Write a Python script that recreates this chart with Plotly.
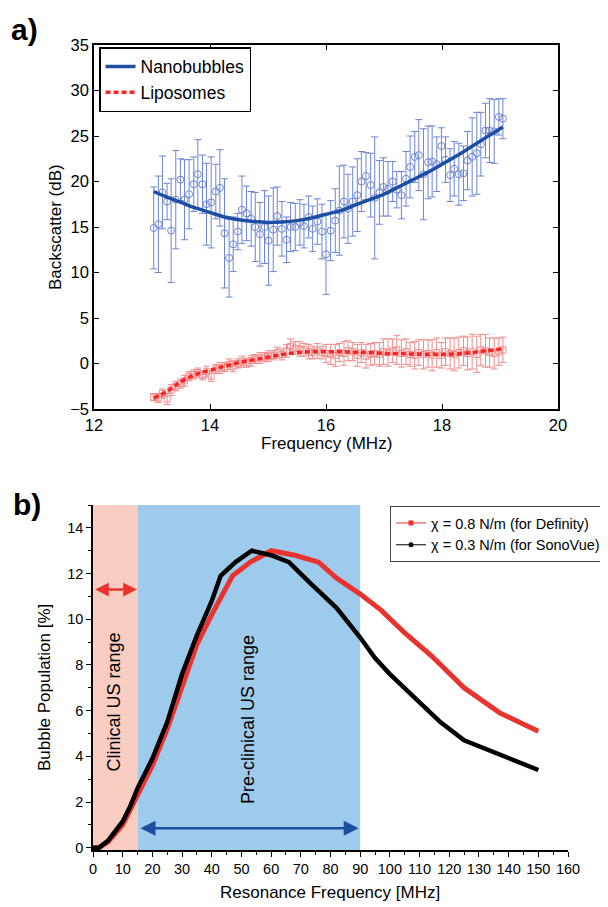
import plotly.graph_objects as go

# ---------------- panel a) data ----------------
freq = [13.03, 13.11, 13.18, 13.26, 13.33, 13.41, 13.49, 13.56, 13.64, 13.72,
        13.79, 13.87, 13.94, 14.02, 14.10, 14.17, 14.25, 14.33, 14.40, 14.48,
        14.55, 14.63, 14.71, 14.78, 14.86, 14.94, 15.01, 15.09, 15.16, 15.24,
        15.32, 15.39, 15.47, 15.55, 15.62, 15.70, 15.77, 15.85, 15.93, 16.00,
        16.08, 16.16, 16.23, 16.31, 16.38, 16.46, 16.54, 16.61, 16.69, 16.77,
        16.84, 16.92, 16.99, 17.07, 17.15, 17.22, 17.30, 17.38, 17.45, 17.53,
        17.60, 17.68, 17.76, 17.83, 17.91, 17.99, 18.06, 18.14, 18.21, 18.29,
        18.37, 18.44, 18.52, 18.60, 18.67, 18.75, 18.82, 18.90, 18.98, 19.05]

nano_mean = [14.9, 15.3, 18.8, 17.8, 14.6, 18.0, 20.2, 18.0, 18.6, 19.7,
             20.8, 19.7, 17.5, 17.7, 18.9, 19.3, 14.3, 11.6, 13.1, 14.5,
             16.9, 16.5, 15.9, 15.0, 14.2, 15.0, 13.5, 14.7, 16.2, 14.8,
             13.6, 15.0, 15.0, 15.5, 15.1, 16.1, 14.8, 15.6, 14.5, 12.0,
             14.6, 15.7, 16.8, 17.8, 17.0, 17.8, 18.5, 20.0, 20.6, 19.6,
             18.2, 18.8, 19.4, 19.2, 20.0, 19.1, 18.5, 20.3, 21.6, 22.7,
             22.9, 20.8, 22.1, 22.2, 21.9, 23.9, 22.4, 20.7, 21.4, 20.8,
             20.9, 22.3, 22.7, 23.1, 24.1, 25.6, 25.6, 25.5, 27.1, 26.9]

nano_err = [4.5, 5.3, 4.0, 2.0, 5.7, 5.4, 2.3, 4.4, 3.8, 3.0,
            3.8, 3.2, 4.5, 5.0, 3.0, 4.2, 6.0, 4.3, 3.0, 2.0,
            3.7, 3.0, 3.0, 3.8, 3.5, 4.0, 4.9, 4.6, 3.2, 3.0,
            2.5, 2.7, 2.6, 2.5, 2.4, 2.3, 2.5, 2.5, 3.0, 4.4,
            3.3, 3.5, 4.9, 4.0, 3.8, 3.8, 4.0, 3.3, 2.6, 3.5,
            6.7, 3.5, 3.2, 3.0, 2.2, 2.0, 2.6, 3.0, 3.4, 2.8,
            3.9, 5.0, 4.0, 3.9, 3.0, 2.0, 2.5, 2.9, 3.0, 3.4,
            3.0, 3.2, 4.3, 4.5, 3.5, 3.0, 3.5, 3.5, 2.0, 2.2]

lipo_mean = [-3.7, -3.8, -3.3, -3.9, -2.9, -2.5, -2.2, -1.9, -1.4, -1.2,
             -1.0, -1.3, -0.9, -1.4, -0.6, -0.5, -0.4, -0.1, -0.3, 0.0,
             0.2, 0.1, 0.3, 0.5, 0.6, 0.7, 0.8, 0.9, 1.2, 1.0,
             1.4, 1.9, 1.7, 1.6, 1.5, 1.3, 1.2, 1.4, 1.2, 1.1,
             1.0, 0.9, 1.2, 1.1, 1.4, 1.3, 0.9, 1.2, 0.8, 1.0,
             1.1, 1.0, 1.3, 1.2, 1.4, 1.5, 1.1, 1.3, 1.0, 0.9,
             1.2, 1.0, 1.1, 0.9, 1.2, 0.9, 1.3, 1.1, 1.0, 1.2,
             1.4, 1.1, 1.3, 1.0, 1.5, 1.4, 1.2, 1.1, 1.3, 1.5]

lipo_err = [0.4, 0.5, 0.5, 0.6, 0.6, 0.5, 0.5, 0.6, 0.5, 0.5,
            0.5, 0.5, 0.6, 0.6, 0.5, 0.6, 0.5, 0.6, 0.6, 0.5,
            0.6, 0.5, 0.6, 0.5, 0.6, 0.5, 0.6, 0.5, 0.6, 0.6,
            0.7, 0.8, 0.7, 0.8, 0.7, 0.8, 0.7, 0.8, 0.7, 1.0,
            1.1, 1.2, 1.0, 1.3, 1.1, 1.0, 1.2, 1.1, 1.3, 1.2,
            1.2, 1.3, 1.4, 1.5, 1.3, 1.6, 1.5, 1.4, 1.3, 1.5,
            1.4, 1.6, 1.5, 1.7, 1.6, 1.4, 1.5, 1.7, 1.8, 1.7,
            1.6, 1.8, 1.9, 2.0, 1.7, 1.8, 1.6, 1.7, 1.5, 1.4]

fit_freq = [13.03, 13.25, 13.5, 13.75, 14.0, 14.25, 14.5, 14.75, 15.0, 15.25,
            15.5, 15.75, 16.0, 16.25, 16.5, 16.75, 17.0, 17.25, 17.5, 17.75,
            18.0, 18.25, 18.5, 18.75, 19.05]
nano_fit = [18.9, 18.3, 17.7, 17.1, 16.6, 16.1, 15.8, 15.6, 15.5, 15.55,
            15.7, 16.0, 16.4, 16.8, 17.4, 18.0, 18.6, 19.4, 20.2, 21.0,
            21.9, 22.8, 23.8, 24.8, 26.0]
lipo_fit = [-3.8, -3.1, -2.0, -1.2, -0.75, -0.3, 0.1, 0.4, 0.7, 1.0,
            1.2, 1.3, 1.3, 1.3, 1.25, 1.2, 1.1, 1.07, 1.05, 1.02,
            1.0, 1.05, 1.2, 1.4, 1.6]

# ---------------- panel b) data ----------------
def_freq = [0, 2, 5, 10, 15, 20, 25, 30, 35, 40, 47, 53, 60, 68, 76, 82, 90,
            97, 105, 114, 125, 137, 150]
def_pop = [0, 0, 0.25, 1.0, 2.3, 3.6, 5.2, 7.1, 8.9, 10.2, 11.9, 12.5, 13.0,
           12.8, 12.5, 11.8, 11.1, 10.4, 9.4, 8.4, 7.0, 5.9, 5.1]
sono_freq = [0, 2, 5, 7.5, 10, 12.5, 15, 20, 25, 30, 35, 40, 43, 48, 53.5, 60,
             66, 73, 82, 90, 95, 100, 105, 110, 117, 125, 137, 150]
sono_pop = [0, 0, 0.3, 0.7, 1.15, 1.8, 2.6, 3.9, 5.5, 7.6, 9.3, 10.8, 11.9,
            12.5, 13.0, 12.8, 12.5, 11.6, 10.5, 9.2, 8.3, 7.6, 7.0, 6.4, 5.5,
            4.7, 4.1, 3.4]

x_ticks_b = [0, 10, 20, 30, 40, 50, 60, 70, 80, 90, 100, 110, 120, 130, 140, 150, 160]
y_ticks_b = [0, 2, 4, 6, 8, 10, 12, 14]

FONT = "Liberation Sans, Arial, sans-serif"
OFF = 8                      # page body margin offset of the figure div
W, H = 608 - OFF, 907 - OFF  # figure size so it fits the window after the offset

NB_LINE = "#1c4fa3"
NB_PT = "#6d85d4"
LP_LINE = "#ff2222"
LP_PT = "#f08a8a"
RED_B = "#e8332f"
PINK = "#f9cdc2"
BLUE = "#9ecbec"
ARROW_BLUE = "#1d4fa0"

fig = go.Figure()

# ---- panel a traces ----
fig.add_trace(go.Scatter(
    x=freq, y=nano_mean, mode="markers", xaxis="x", yaxis="y",
    marker=dict(symbol="circle-open", size=7, color=NB_PT, line=dict(width=1)),
    error_y=dict(type="data", array=nano_err, color=NB_PT, thickness=1, width=3.5),
    showlegend=False, hoverinfo="skip"))
fig.add_trace(go.Scatter(
    x=freq, y=lipo_mean, mode="markers", xaxis="x", yaxis="y",
    marker=dict(symbol="square-open", size=6, color=LP_PT, line=dict(width=1)),
    error_y=dict(type="data", array=lipo_err, color=LP_PT, thickness=1, width=3.5),
    showlegend=False, hoverinfo="skip"))
fig.add_trace(go.Scatter(
    x=fit_freq, y=nano_fit, mode="lines", xaxis="x", yaxis="y",
    line=dict(color=NB_LINE, width=3.5, shape="spline"),
    name="Nanobubbles", legend="legend"))
fig.add_trace(go.Scatter(
    x=fit_freq, y=lipo_fit, mode="lines", xaxis="x", yaxis="y",
    line=dict(color=LP_LINE, width=3.5, dash="5px,3px", shape="spline"),
    name="Liposomes", legend="legend"))

# ---- panel b traces ----
fig.add_trace(go.Scatter(
    x=def_freq, y=def_pop, mode="lines", xaxis="x2", yaxis="y2",
    line=dict(color=RED_B, width=5), showlegend=False, hoverinfo="skip"))
fig.add_trace(go.Scatter(
    x=sono_freq, y=sono_pop, mode="lines", xaxis="x2", yaxis="y2",
    line=dict(color="black", width=4.5), showlegend=False, hoverinfo="skip"))
# legend entries (thin line with marker, as in the reference legend)
fig.add_trace(go.Scatter(
    x=[None], y=[None], mode="lines+markers", xaxis="x2", yaxis="y2",
    line=dict(color=RED_B, width=1), marker=dict(symbol="square", size=5, color=RED_B),
    name="\u03c7 = 0.8 N/m (for Definity)", legend="legend2"))
fig.add_trace(go.Scatter(
    x=[None], y=[None], mode="lines+markers", xaxis="x2", yaxis="y2",
    line=dict(color="black", width=1), marker=dict(symbol="circle", size=5, color="black"),
    name="\u03c7 = 0.3 N/m (for SonoVue)", legend="legend2"))

# ---- geometry (window pixels -> paper) ----
def px(x):
    return (x - OFF) / W

def py(y):
    return 1 - (y - OFF) / H

axis_a = dict(showline=True, linecolor="black", linewidth=1.5, mirror="ticks",
              ticks="inside", ticklen=5, tickwidth=1.2, tickcolor="black",
              showgrid=False, zeroline=False, automargin=False,
              tickfont=dict(family=FONT, size=16.5, color="black"))
axis_b = dict(showline=True, linecolor="black", linewidth=1.5, mirror=False,
              ticks="outside", ticklen=5, tickwidth=1.2, tickcolor="black",
              showgrid=False, zeroline=False, automargin=False,
              tickfont=dict(family=FONT, size=14.5, color="black"))

fig.update_layout(
    width=W, height=H, autosize=False,
    margin=dict(l=0, r=0, t=0, b=0, pad=0),
    paper_bgcolor="white", plot_bgcolor="white",
    font=dict(family=FONT, color="black"),
    xaxis=dict(axis_a, domain=[px(94), px(558)], range=[12, 20],
               tickvals=[12, 14, 16, 18, 20], anchor="y"),
    yaxis=dict(axis_a, domain=[py(409), py(45)], range=[-5, 35],
               tickvals=[-5, 0, 5, 10, 15, 20, 25, 30, 35], anchor="x"),
    xaxis2=dict(axis_b, domain=[px(93), px(568)], range=[0, 160],
                tickvals=x_ticks_b, anchor="y2",
                minor=dict(dtick=5, ticks="outside", ticklen=3, tickwidth=1.2,
                           tickcolor="black")),
    yaxis2=dict(axis_b, domain=[py(850), py(505)], range=[-0.1, 15],
                tickvals=y_ticks_b, anchor="x2",
                minor=dict(tickvals=[1, 3, 5, 7, 9, 11, 13, 15], ticks="outside",
                           ticklen=3, tickwidth=1.2, tickcolor="black")),
    legend=dict(x=px(99), y=py(47), xanchor="left", yanchor="top",
                bgcolor="white", bordercolor="black", borderwidth=1.5,
                font=dict(family=FONT, size=17.5, color="black"),
                itemwidth=30, tracegroupgap=0),
    legend2=dict(x=px(606), y=py(506), xanchor="right", yanchor="top",
                 bgcolor="white", bordercolor="#444", borderwidth=1,
                 font=dict(family=FONT, size=14.5, color="black"),
                 itemwidth=30, tracegroupgap=0),
    showlegend=True,
)

# shaded ranges
fig.add_shape(type="rect", xref="x2", yref="y2", x0=0, x1=15, y0=-0.1, y1=15,
              fillcolor=PINK, line=dict(width=0), layer="below")
fig.add_shape(type="rect", xref="x2", yref="y2", x0=15, x1=90, y0=-0.1, y1=15,
              fillcolor=BLUE, line=dict(width=0), layer="below")

C = dict(xanchor="center", yanchor="middle", showarrow=False)
annotations = [
    # arrows
    dict(x=14.8, y=11.3, ax=0.2, ay=11.3, xref="x2", yref="y2", axref="x2", ayref="y2",
         text="", showarrow=True, arrowhead=2, startarrowhead=2, arrowside="end+start",
         arrowwidth=2.5, arrowsize=1.1, startarrowsize=1.1, arrowcolor=RED_B),
    dict(x=89.5, y=0.85, ax=15.5, ay=0.85, xref="x2", yref="y2", axref="x2", ayref="y2",
         text="", showarrow=True, arrowhead=2, startarrowhead=2, arrowside="end+start",
         arrowwidth=2.5, arrowsize=1.2, startarrowsize=1.2, arrowcolor=ARROW_BLUE),
    # range labels
    dict(C, x=7.4, y=6.4, xref="x2", yref="y2", text="Clinical US range", textangle=-90,
         font=dict(family=FONT, size=18, color="black")),
    dict(C, x=52.3, y=5.6, xref="x2", yref="y2", text="Pre-clinical US range", textangle=-90,
         font=dict(family=FONT, size=18, color="black")),
    # axis titles
    dict(C, x=px(55), y=py(227), xref="paper", yref="paper", text="Backscatter (dB)",
         textangle=-90, font=dict(family=FONT, size=17, color="black")),
    dict(C, x=px(326), y=py(443), xref="paper", yref="paper", text="Frequency (MHz)",
         font=dict(family=FONT, size=17, color="black")),
    dict(C, x=px(44), y=py(688), xref="paper", yref="paper", text="Bubble Population [%]",
         textangle=-90, font=dict(family=FONT, size=17, color="black")),
    dict(C, x=px(330), y=py(892), xref="paper", yref="paper", text="Resonance Frequency [MHz]",
         font=dict(family=FONT, size=17, color="black")),
    # panel letters
    dict(C, x=px(24), y=py(30), xref="paper", yref="paper", text="<b>a)</b>",
         font=dict(family=FONT, size=30, color="black")),
    dict(C, x=px(27), y=py(504), xref="paper", yref="paper", text="<b>b)</b>",
         font=dict(family=FONT, size=30, color="black")),
]
fig.update_layout(annotations=annotations)

fig.write_html("out.html")
